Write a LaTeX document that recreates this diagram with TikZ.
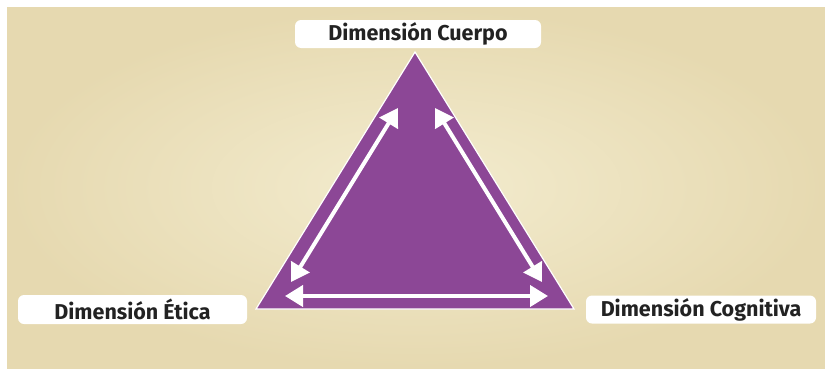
\documentclass[tikz,border=0pt]{standalone}
\usepackage{fontspec}
\setmainfont{Fira Sans}
\usetikzlibrary{arrows.meta}
\definecolor{parchlight}{HTML}{F3ECCF}
\definecolor{parchdark}{HTML}{E6D9B0}
\definecolor{purp}{HTML}{8C4796}
\definecolor{txt}{HTML}{222222}
\tikzset{
  label box/.style={fill=white, rounded corners=6pt, inner sep=0pt, text=txt,
    font=\fontsize{21.5}{25}\selectfont\bfseries, align=center},
  dbl arrow/.style={draw=white, line width=4pt,
    {Triangle[length=18pt,width=21pt]}-{Triangle[length=18pt,width=21pt]}},
}
\begin{document}
\begin{tikzpicture}[x=1pt,y=-1pt]
\useasboundingbox (0,0) rectangle (825,370);
\fill[white] (0,0) rectangle (825,370);
\shade[inner color=parchlight, outer color=parchdark] (7,7) rectangle (825,368);
% triangle
\coordinate (top) at (415,52);
\coordinate (bl) at (256,309);
\coordinate (br) at (574,309);
\draw[fill=purp, draw=white, line width=1.2pt, line join=miter] (top) -- (bl) -- (br) -- cycle;
% arrows
\coordinate (la1) at (398,108);
\coordinate (la2) at (291,282);
\coordinate (ra1) at (435,108);
\coordinate (ra2) at (542,282);
\coordinate (ba1) at (285,296);
\coordinate (ba2) at (548,296);
\draw[dbl arrow] (la1) -- (la2);
\draw[dbl arrow] (ra1) -- (ra2);
\draw[dbl arrow] (ba1) -- (ba2);
% labels
\node[label box, minimum width=246pt, minimum height=28pt] (cuerpo) at (418,34) {Dimensión Cuerpo};
\node[label box, minimum width=229pt, minimum height=29pt] (etica) at (132.5,309.5) {Dimensión Ética};
\node[label box, minimum width=230pt, minimum height=28pt] (cogn) at (701,309.5) {Dimensión Cognitiva};
\end{tikzpicture}
\end{document}
